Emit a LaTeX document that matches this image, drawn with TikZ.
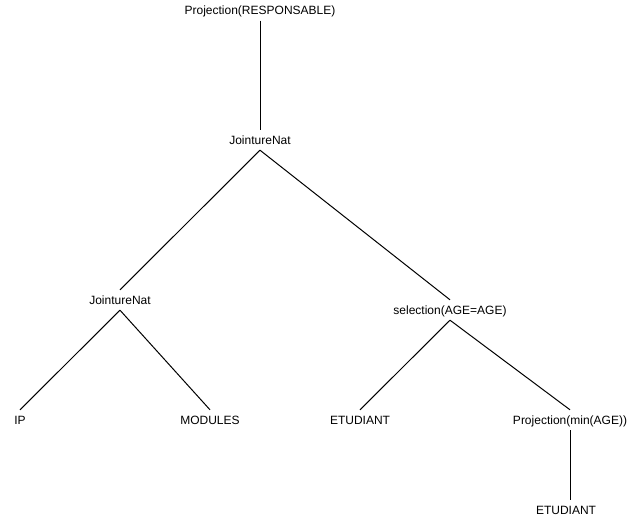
\documentclass[tikz,border=0pt]{standalone}
\usepackage{fontspec}
\setmainfont{Liberation Sans}
\begin{document}
\begin{tikzpicture}[x=1pt,y=-1pt,
  lbl/.style={inner sep=0pt, text height=8.6pt, text depth=0pt, minimum height=20pt, font=\fontsize{12pt}{14pt}\selectfont},
  edge/.style={draw=black, line width=1pt}]
\useasboundingbox (0,0) rectangle (628,521);
\node[lbl] (p1) at (260,10.5) {Projection(RESPONSABLE)};
\node[lbl] (j1) at (260,140) {JointureNat};
\node[lbl] (j2) at (120,300) {JointureNat};
\node[lbl] (s)  at (450,310) {selection(AGE=AGE)};
\node[lbl] (ip) at (20,420) {IP};
\node[lbl] (mo) at (210,420) {MODULES};
\node[lbl] (e1) at (360,420) {ETUDIANT};
\node[lbl] (p2) at (570,420) {Projection(min(AGE))};
\node[lbl] (e2) at (566,510) {ETUDIANT};
\draw[edge] (p1.south) -- (j1.north);
\draw[edge] (j1.south) -- (j2.north);
\draw[edge] (j1.south) -- (s.north);
\draw[edge] (j2.south) -- (ip.north);
\draw[edge] (j2.south) -- (mo.north);
\draw[edge] (s.south) -- (e1.north);
\draw[edge] (s.south) -- (p2.north);
\draw[edge] (p2.south) -- (p2.south |- e2.north);
\end{tikzpicture}
\end{document}
